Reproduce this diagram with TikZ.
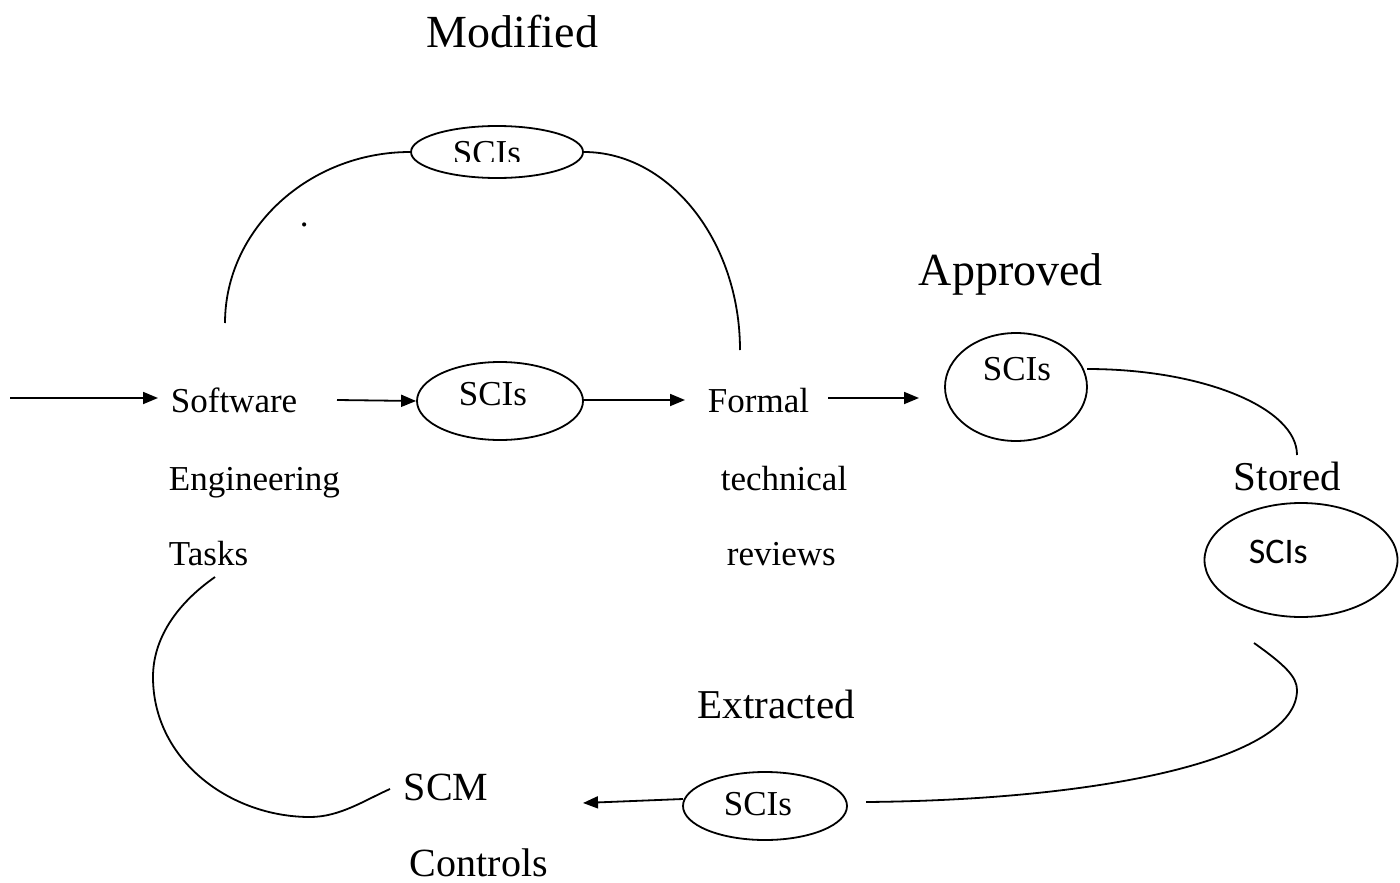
\documentclass[tikz,border=0pt]{standalone}
\usepackage{fontspec}
\setmainfont{Liberation Serif}
\newfontfamily\calibfont{Carlito}
\usetikzlibrary{arrows.meta,shapes.geometric}

\begin{document}
\begin{tikzpicture}[x=1pt,y=-1pt,
  line width=1.8pt,
  word/.style={inner sep=0pt,anchor=base west},
  txt/.style={word,font=\fontsize{35}{40}\selectfont},
  big/.style={word,font=\fontsize{46}{52}\selectfont},
  mid/.style={word,font=\fontsize{40}{46}\selectfont},
  oval/.style={draw,ellipse,inner sep=0pt},
  arr/.style={-{Triangle[length=15pt,width=12pt]}}]
\useasboundingbox (0,0) rectangle (1400,883);

% headings
\node[big] (modified) at (426,48) {Modified};
\node[big] (approved) at (918,285) {Approved};
\node[word,font=\fontsize{41}{46}\selectfont] (stored) at (1233,490) {Stored};
\node[word,font=\fontsize{41}{46}\selectfont] (extracted) at (697,718) {Extracted};
\node[mid] (scm) at (403,800) {SCM};
\node[mid] (controls) at (409,876) {Controls};

% process labels
\node[txt] (sw) at (170,412) {Software};
\node[txt] (eng) at (168,490) {Engineering};
\node[txt] (tasks) at (168,565) {Tasks};
\node[txt] (formal) at (707,412) {Formal};
\node[txt] (tech) at (720,490) {technical};
\node[txt] (rev) at (726,565) {reviews};
\node[txt] (dot) at (299,226) {.};

% SCI ellipses
\node[oval,minimum width=172,minimum height=52] (e1) at (497,152) {};
\begin{scope}
  \clip (420,120) rectangle (580,161);
  \node[txt] (t1) at (452,164) {SCIs};
\end{scope}
\node[oval,minimum width=166,minimum height=78] (e2) at (500,401) {};
\node[txt] (t2) at (458,405) {SCIs};
\node[oval,minimum width=142,minimum height=108] (e3) at (1016,387) {};
\node[txt] (t3) at (982,380) {SCIs};
\node[oval,minimum width=193,minimum height=114] (e4) at (1301,560) {};
\node[word,font=\calibfont\fontsize{36}{42}\selectfont] (t4) at (1248,563) {SCIs};
\node[oval,minimum width=164,minimum height=68] (e5) at (765,806) {};
\node[txt] (t5) at (723,815) {SCIs};

% connector end points
\coordinate (in) at (10,398);
\coordinate (inTip) at (158,398);
\coordinate (swR) at (337,400);
\coordinate (e2R) at (583,400);
\coordinate (formalIn) at (685,400);
\coordinate (formalR) at (828,398);
\coordinate (e3In) at (919,398);
\coordinate (e3R) at (1087,369);
\coordinate (storedTop) at (1297,455);
\coordinate (e4B) at (1254,643);
\coordinate (e5R) at (866,802);
\coordinate (e5L) at (683,799);
\coordinate (scmIn) at (583,803);
\coordinate (scmL) at (390,789);
\coordinate (tasksB) at (215,577);
\coordinate (swTop) at (225,323);
\coordinate (formalTop) at (740,350);

% straight arrows
\draw[arr] (in) -- (inTip);
\draw[arr] (swR) -- (e2.west);
\draw[arr] (e2R) -- (formalIn);
\draw[arr] (formalR) -- (e3In);
\draw[arr] (e5L) -- (scmIn);

% loop over the top: modified SCIs
\draw (swTop) .. controls (225,229) and (309,152) .. (e1.west);
\draw (e1.east) .. controls (669,152) and (740,241) .. (formalTop);

% approved to stored
\draw (e3R) .. controls (1203,369) and (1297,408) .. (storedTop);

% stored to extracted
\draw (e4B) .. controls (1285,665) and (1297,677) .. (1297,690)
      .. controls (1297,760) and (1100,800) .. (e5R);

% SCM controls back to tasks
\draw (tasksB) .. controls (175,605) and (153,640) .. (153,677)
      .. controls (153,760) and (230,817) .. (310,817)
      .. controls (340,817) and (365,800) .. (scmL);
\end{tikzpicture}
\end{document}
